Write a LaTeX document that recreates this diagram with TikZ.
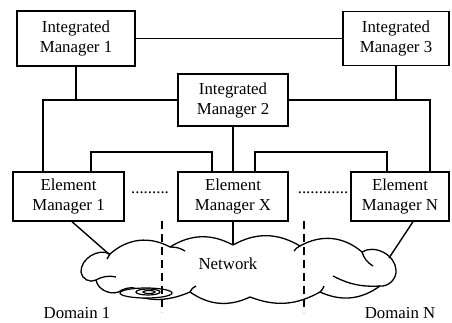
\documentclass[tikz,border=0pt]{standalone}
\usepackage{fontspec}
\setmainfont{Liberation Serif}
\usepackage{tikz}

\begin{document}
\begin{tikzpicture}[
  x=1pt, y=-1pt,
  font=\fontsize{16.8}{20}\selectfont,
  box/.style={draw, line width=1.4pt, align=center, inner sep=0pt},
  wire/.style={line width=1.4pt},
  puff/.style={line width=1.3pt},
  border/.style={line width=1.3pt, dash pattern=on 8pt off 5pt}
]
\useasboundingbox (0,0) rectangle (452,322);

\node[box, minimum width=118, minimum height=55] (im1) at (76,38.5) {Integrated\\Manager 1};
\node[box, minimum width=106, minimum height=54] (im3) at (396,38.5) {Integrated\\Manager 3};
\node[box, minimum width=110, minimum height=52] (im2) at (233,100) {Integrated\\Manager 2};
\node[box, minimum width=111, minimum height=49] (em1) at (68.5,196.5) {Element\\Manager 1};
\node[box, minimum width=110, minimum height=49] (emx) at (233,196.5) {Element\\Manager X};
\node[box, minimum width=98, minimum height=49] (emn) at (400,196.5) {Element\\Manager N};

\node[anchor=base] (dots1) at (150,193) {.........};
\node[anchor=base] (dots2) at (323,193) {............};

% the network cloud
\draw[puff] (81,272) to[bend left=60] (110,254) to[bend left=35] (170,247)
  to[bend left=30] (233,245) to[bend left=30] (300,246) to[bend left=35] (362,252)
  to[bend left=60] (396,270) to[bend left=50] (380,286) to[bend left=30] (320,292)
  to[bend left=25] (250,297) to[bend left=30] (190,292) to[bend left=25] (122,290)
  to[bend left=60] (96,280) to[bend left=60] cycle;
\draw[puff] (96,280) to[bend left=20] (116,277);
\draw[puff] (122,290) to[bend left=15] (135,288);
\draw[puff] (380,286) to[bend left=15] (333,276);
\draw[puff] (362,252) to[bend right=20] (373,266);
\draw[puff] (110,254) to[bend right=10] (107,259);
\draw[puff] (170,247) to[bend left=15] (185,251);
\draw[puff] (300,246) to[bend right=15] (294,251);
\draw[puff] (190,292) to[bend left=20] (196,286);
\draw[puff] (320,292) to[bend right=15] (324,286);
\node (net) at (228,264) {Network};
\draw[line width=1.2pt, fill=white] (146,293) ellipse [x radius=26, y radius=5];
\draw[line width=1.2pt] (148,292) ellipse [x radius=12, y radius=3];
\draw[line width=1.2pt] (149,292) ellipse [x radius=6, y radius=1.5];

\node[anchor=base] (dom1) at (77,318) {Domain 1};
\node[anchor=base] (domn) at (400,318) {Domain N};

\coordinate (lbus) at (43,100);
\coordinate (rbus) at (430,100);
\coordinate (lnka) at (91,152);
\coordinate (lnkb) at (212,152);
\coordinate (rnka) at (255,152);
\coordinate (rnkb) at (387,152);
\coordinate (c1) at (110,255);
\coordinate (cx) at (233,245);
\coordinate (cn) at (389,258);
\coordinate (d1a) at (162,221);
\coordinate (d1b) at (162,312);
\coordinate (dna) at (304,221);
\coordinate (dnb) at (304,312);

\draw[wire] (im1) -- (im3);
\draw[wire] (im1.south) -- (im1.south |- lbus);
\draw[wire] (im3.south) -- (im3.south |- rbus);
\draw[wire] (im2.west) -- (lbus) -- (lbus |- em1.north);
\draw[wire] (im2.east) -- (rbus) -- (rbus |- emn.north);
\draw[wire] (im2) -- (emx);
\draw[wire] (em1.north -| lnka) -- (lnka) -- (lnkb) -- (emx.north -| lnkb);
\draw[wire] (emx.north -| rnka) -- (rnka) -- (rnkb) -- (emn.north -| rnkb);
\draw[wire] (em1.south -| 72,0) -- (c1);
\draw[wire] (emx.south) -- (cx);
\draw[wire] (emn.south -| 413,0) -- (cn);
\draw[border] (d1a) -- (d1b);
\draw[border] (dna) -- (dnb);
\end{tikzpicture}
\end{document}
